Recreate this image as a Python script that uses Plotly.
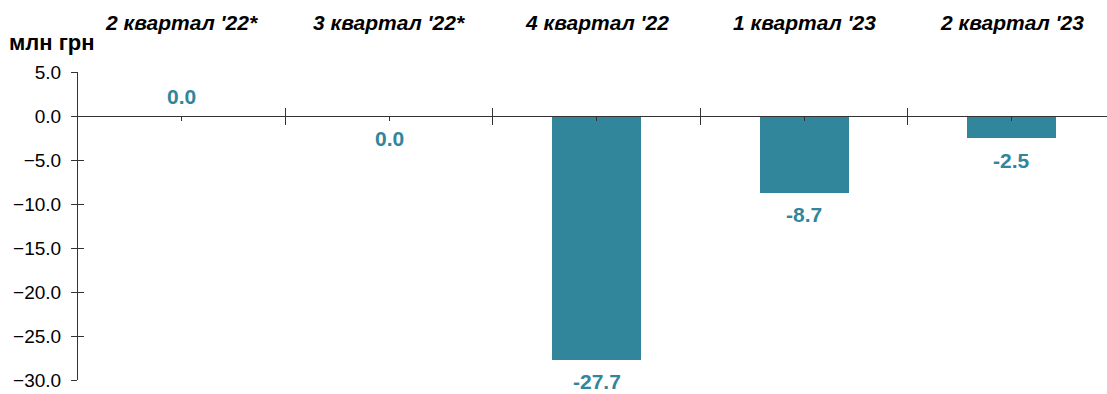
import plotly.graph_objects as go

# Quarterly result, UAH million
quarters = ["2 квартал '22*", "3 квартал '22*", "4 квартал '22", "1 квартал '23", "2 квартал '23"]
values = [0.0, 0.0, -27.7, -8.7, -2.5]
label_side = ["above", "below", "below", "below", "below"]
y_ticks = [5, 0, -5, -10, -15, -20, -25, -30]

BAR = "#31869b"
FONT = "Liberation Sans, Arial, sans-serif"
Y_MIN, Y_MAX = -30, 5
x_pos = list(range(len(quarters)))
zero_pos = (0 - Y_MIN) / (Y_MAX - Y_MIN)

fig = go.Figure()
fig.add_trace(go.Bar(x=x_pos, y=values, width=0.43, marker=dict(color=BAR, line=dict(width=0)),
                     hoverinfo="skip"))

# value labels under/over each bar end
for x, v, side in zip(x_pos, values, label_side):
    fig.add_annotation(x=x, y=v, xref="x", yref="y", text=f"<b>{v:.1f}</b>", showarrow=False,
                       yanchor="middle", yshift=20 if side == "above" else -22,
                       font=dict(family=FONT, size=21, color=BAR))

# quarter names along the top
for x, q in zip(x_pos, quarters):
    fig.add_annotation(x=x, y=1, xref="x", yref="paper", yanchor="middle", yshift=72 - 22,
                       text=f"<b><i>{q}</i></b>", showarrow=False,
                       font=dict(family=FONT, size=21, color="black"))

fig.add_annotation(x=0, y=1, xref="paper", yref="paper", xshift=-71, yshift=72 - 42,
                   xanchor="left", yanchor="middle", text="<b>млн грн</b>", showarrow=False,
                   font=dict(family=FONT, size=22, color="black"))

axis_common = dict(range=[Y_MIN, Y_MAX], tickvals=y_ticks, showgrid=False, zeroline=False)
fig.update_layout(
    width=1107, height=394,
    margin=dict(l=78, r=0, t=72, b=14),
    plot_bgcolor="white", paper_bgcolor="white",
    showlegend=False,
    bargap=0,
    xaxis=dict(range=[-0.5, 4.46], anchor="free", position=zero_pos, showline=True,
               linecolor="#333333", linewidth=1, showgrid=False, zeroline=False,
               showticklabels=False, tickmode="array", tickvals=[0.5, 1.5, 2.5, 3.5],
               ticks="outside", ticklen=8, tickcolor="#333333",
               minor=dict(tickmode="array", tickvals=x_pos, ticks="outside", ticklen=4,
                          tickcolor="#333333")),
    xaxis2=dict(range=[-0.5, 4.46], overlaying="x", anchor="free", position=zero_pos,
                showline=False, showgrid=False, zeroline=False, showticklabels=False,
                tickmode="array", tickvals=[0.5, 1.5, 2.5, 3.5], ticks="inside", ticklen=8,
                tickcolor="#333333"),
    yaxis=dict(**axis_common, showline=True, linecolor="#333333", linewidth=1,
               ticks="outside", ticklen=6, tickcolor="#333333", tickformat=".1f",
               ticklabelstandoff=6,
               tickfont=dict(family=FONT, size=19, color="black")),
    yaxis2=dict(**axis_common, overlaying="y", anchor="x", side="left", showline=False,
                ticks="inside", ticklen=6, tickcolor="#333333", showticklabels=False),
)
# invisible trace so the overlay axes render
fig.add_trace(go.Scatter(x=[None], y=[None], xaxis="x2", yaxis="y2", showlegend=False))

fig.write_html("out.html")
